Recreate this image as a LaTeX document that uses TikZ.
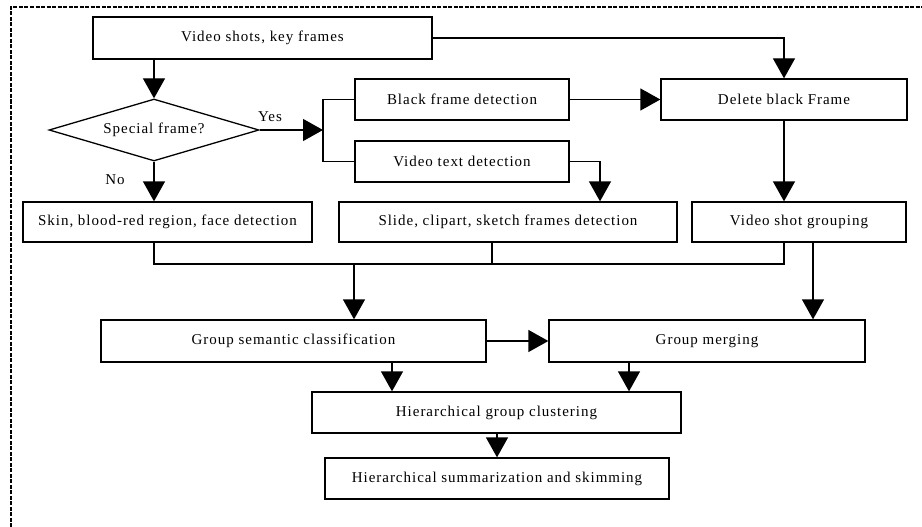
\documentclass[tikz,border=0pt]{standalone}
\usepackage{fontspec}
\setmainfont{Liberation Serif}[LetterSpace=6.5]
\usetikzlibrary{shapes.geometric,arrows.meta}
\begin{document}
\begin{tikzpicture}[x=1pt,y=-1pt,
  line width=1.3pt,
  every node/.style={font=\fontsize{15}{17}\selectfont},
  box/.style={draw,rectangle,inner sep=0pt,line width=1.3pt},
  arr/.style={-{Triangle[length=20pt,width=22pt]}},
  lbl/.style={inner sep=0pt}]
\useasboundingbox (0,0) rectangle (922,527);
\draw[line width=2.4pt,dash pattern=on 4pt off 1.5pt] (11,527) -- (11,7) -- (922,7);

\node[box,minimum width=339pt,minimum height=42pt] (top) at (262.5,38) {Video shots, key frames};
\node[draw,diamond,inner sep=0pt,aspect=3.4,minimum width=210pt,minimum height=62pt] (dia) at (154,130) {Special frame?};
\node[box,minimum width=214pt,minimum height=41pt] (bf) at (462,99.5) {Black frame detection};
\node[box,minimum width=214pt,minimum height=41pt] (vt) at (462,161.5) {Video text detection};
\node[box,minimum width=246pt,minimum height=41pt] (del) at (784,99.5) {Delete black Frame};
\node[box,minimum width=289pt,minimum height=40pt] (skin) at (167.5,222) {Skin, blood-red region, face detection};
\node[box,minimum width=338pt,minimum height=40pt] (slide) at (508,222) {Slide, clipart, sketch frames detection};
\node[box,minimum width=214pt,minimum height=40pt] (vsg) at (799,222) {Video shot grouping};
\node[box,minimum width=385pt,minimum height=42pt] (gsc) at (293.5,341) {Group semantic classification};
\node[box,minimum width=316pt,minimum height=42pt] (gm) at (707,341) {Group merging};
\node[box,minimum width=369pt,minimum height=41pt] (hgc) at (496.5,412.5) {Hierarchical group clustering};
\node[box,minimum width=344pt,minimum height=41pt] (hss) at (497,478.5) {Hierarchical summarization and skimming};

\node[lbl] (yes) at (270,117) {Yes};
\node[lbl] (no) at (115,180) {No};

\coordinate (yj) at (323,130);
\coordinate (vtx) at (600,161.5);
\coordinate (mL) at (154,264);
\coordinate (mR) at (784,264);
\coordinate (mS) at (492,264);
\coordinate (mA) at (354,264);

% top
\draw[arr] (dia.north |- top.south) -- (dia.north);
\draw[arr] (top.east) -| (del.north);
% yes branch
\draw[arr] (dia.east) -- (yj);
\draw (bf.west) -| (yj) |- (vt.west);
\draw[arr] (bf.east) -- (del.west);
\draw[arr] (vt.east) -| (vtx |- slide.north);
% no branch
\draw[arr] (dia.south) -- (dia.south |- skin.north);
\draw[arr] (del.south) -- (del.south |- vsg.north);
% merge
\draw (mL |- skin.south) -- (mL) -- (mR) -- (mR |- vsg.south);
\draw (mS |- slide.south) -- (mS);
\draw[arr] (mA) -- (mA |- gsc.north);
\draw[arr] (813,0 |- vsg.south) -- (813,0 |- gm.north);
\draw[arr] (gsc.east) -- (gm.west);
\draw[arr] (392,0 |- gsc.south) -- (392,0 |- hgc.north);
\draw[arr] (629,0 |- gm.south) -- (629,0 |- hgc.north);
\draw[arr] (hgc.south -| hss.north) -- (hss.north);
\end{tikzpicture}
\end{document}
